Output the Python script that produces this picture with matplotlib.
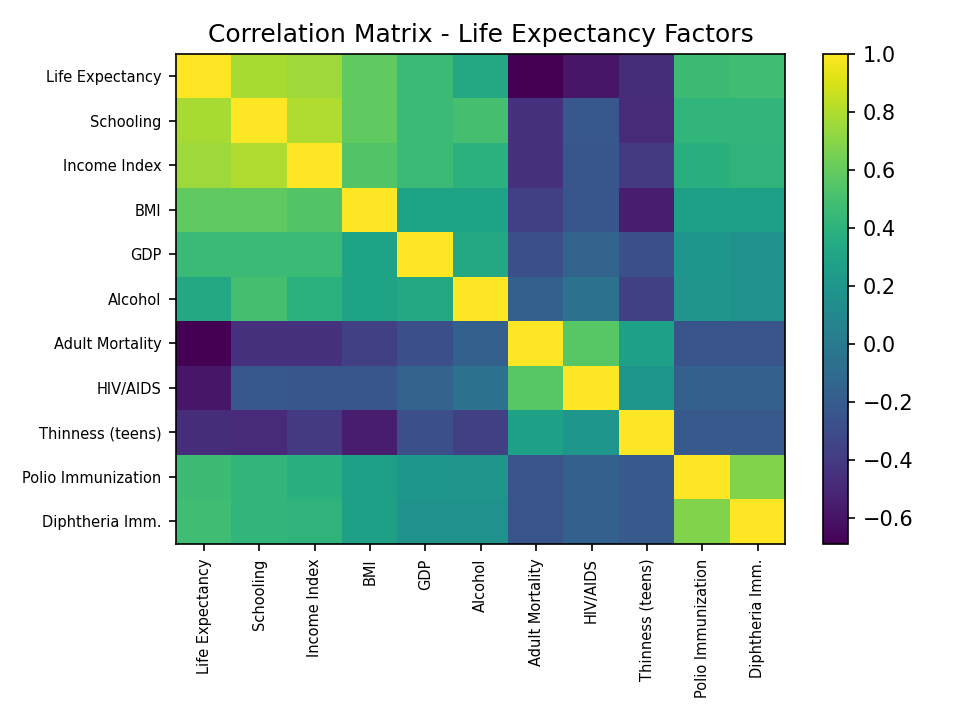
import numpy as np
import matplotlib
matplotlib.use("Agg")
import matplotlib.pyplot as plt

factors = ['Life Expectancy', 'Schooling', 'Income Index', 'BMI', 'GDP', 'Alcohol',
           'Adult Mortality', 'HIV/AIDS', 'Thinness (teens)', 'Polio Immunization',
           'Diphtheria Imm.']

# correlation values, one row per factor
corr = [
    [1.00, 0.78, 0.75, 0.59, 0.46, 0.33, -0.69, -0.59, -0.47, 0.47, 0.48],
    [0.78, 1.00, 0.80, 0.59, 0.46, 0.50, -0.45, -0.23, -0.49, 0.42, 0.42],
    [0.75, 0.80, 1.00, 0.54, 0.46, 0.39, -0.45, -0.24, -0.40, 0.38, 0.41],
    [0.59, 0.59, 0.54, 1.00, 0.29, 0.29, -0.37, -0.24, -0.56, 0.27, 0.27],
    [0.46, 0.46, 0.46, 0.29, 1.00, 0.33, -0.28, -0.15, -0.28, 0.20, 0.17],
    [0.33, 0.50, 0.39, 0.29, 0.33, 1.00, -0.17, -0.05, -0.37, 0.19, 0.17],
    [-0.69, -0.45, -0.45, -0.37, -0.28, -0.17, 1.00, 0.56, 0.28, -0.25, -0.25],
    [-0.59, -0.23, -0.24, -0.24, -0.15, -0.05, 0.56, 1.00, 0.20, -0.17, -0.17],
    [-0.47, -0.49, -0.40, -0.56, -0.28, -0.37, 0.28, 0.20, 1.00, -0.22, -0.22],
    [0.47, 0.42, 0.38, 0.27, 0.20, 0.19, -0.25, -0.17, -0.22, 1.00, 0.68],
    [0.48, 0.42, 0.41, 0.27, 0.17, 0.17, -0.25, -0.17, -0.22, 0.68, 1.00],
]


def plot_corr(matrix, labels):
    fig, ax = plt.subplots(figsize=(6.4, 4.8), dpi=150)
    im = ax.imshow(np.array(matrix), cmap='viridis', aspect='auto')
    fig.colorbar(im, ax=ax)
    ax.set_xticks(range(len(labels)))
    ax.set_yticks(range(len(labels)))
    ax.set_xticklabels(labels, rotation=90, fontsize=7)
    ax.set_yticklabels(labels, fontsize=7)
    ax.set_title('Correlation Matrix - Life Expectancy Factors')
    fig.tight_layout()
    fig.savefig('out.png')


if __name__ == "__main__":
    plot_corr(corr, factors)
